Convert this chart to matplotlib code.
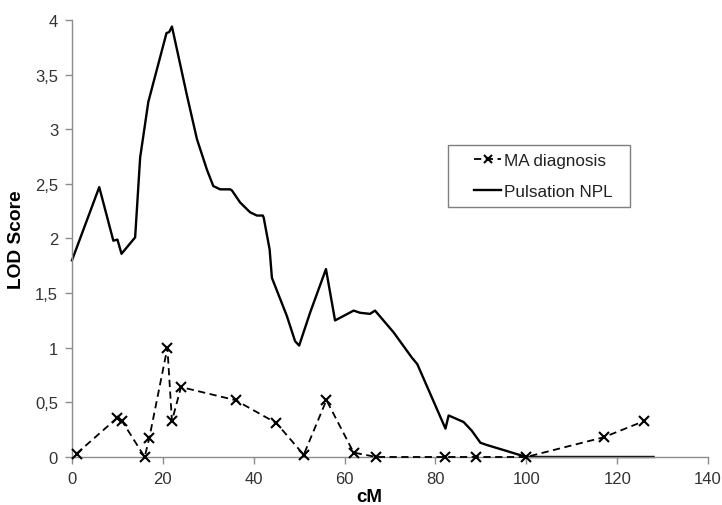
import matplotlib

matplotlib.use("Agg")
import matplotlib.pyplot as plt
from matplotlib.patches import Rectangle
from matplotlib.ticker import FuncFormatter

plt.rcParams["font.family"] = ["Liberation Sans", "DejaVu Sans"]

# Pulsation NPL curve (cM, LOD)
npl_cm = [0, 6, 9.1, 10, 10.9, 13.9, 15, 16.8, 20.8, 21.4, 22, 23, 25.3, 27.5,
          29.7, 31.1, 32.6, 34.8, 35.2, 37, 39.2, 40.7, 42, 42.2, 43.5, 44,
          47.3, 49.1, 50, 52.4, 55.9, 57.9, 62, 63.4, 65.6, 66.7, 70.8, 74.8,
          76, 82.2, 82.9, 86.2, 88, 89.9, 91.3, 100, 128]
npl_lod = [1.80, 2.47, 1.98, 1.99, 1.86, 2.01, 2.74, 3.25, 3.88, 3.89, 3.94,
           3.75, 3.31, 2.91, 2.63, 2.48, 2.45, 2.45, 2.44, 2.33, 2.24, 2.21,
           2.21, 2.19, 1.90, 1.64, 1.29, 1.06, 1.02, 1.32, 1.72, 1.25, 1.34,
           1.32, 1.31, 1.34, 1.14, 0.91, 0.85, 0.26, 0.38, 0.32, 0.24, 0.13,
           0.11, 0.0, 0.0]

# MA diagnosis markers (cM, LOD)
ma_cm = [1, 10, 11, 16, 17, 21, 22, 24, 36, 45, 51, 56, 62, 67, 82, 89, 100,
         117, 126]
ma_lod = [0.03, 0.36, 0.33, 0.0, 0.17, 1.0, 0.33, 0.64, 0.52, 0.31, 0.02,
          0.52, 0.04, 0.0, 0.0, 0.0, 0.0, 0.18, 0.33]

x_ticks = [0, 20, 40, 60, 80, 100, 120, 140]
y_ticks = [0, 0.5, 1, 1.5, 2, 2.5, 3, 3.5, 4]

fig = plt.figure(figsize=(7.22, 5.06), dpi=100)
ax = fig.add_axes([0.0997, 0.0949, 0.881, 0.8636])

ax.plot(ma_cm, ma_lod, color="black", linestyle="--", linewidth=1.3,
        dashes=(4, 2.5), marker="x", markersize=7, markeredgewidth=1.5,
        label="MA diagnosis", clip_on=False, zorder=3)
ax.plot(npl_cm, npl_lod, color="black", linewidth=1.7,
        label="Pulsation NPL", clip_on=False, zorder=2)

ax.set_xlim(0, 140)
ax.set_ylim(0, 4)
ax.set_xticks(x_ticks)
ax.set_yticks(y_ticks)
ax.yaxis.set_major_formatter(
    FuncFormatter(lambda v, _p: f"{v:g}".replace(".", ",")))

for side in ("top", "right"):
    ax.spines[side].set_visible(False)
for side in ("left", "bottom"):
    ax.spines[side].set_color("#8c8c8c")
    ax.spines[side].set_linewidth(1.0)
ax.tick_params(direction="out", length=5, color="#8c8c8c", width=1.0,
               labelsize=12, labelcolor="#333333", pad=5)

ax.set_xlabel("cM", fontsize=13.5, fontweight="bold")
ax.xaxis.set_label_coords(0.467, -0.071)
ax.set_ylabel("LOD Score", fontsize=13.8, fontweight="bold", labelpad=7)

# legend box is wider than its contents, so draw the frame separately
ax.add_patch(Rectangle((0.591, 0.572), 0.286, 0.142, transform=ax.transAxes,
                       facecolor="white", edgecolor="#7f7f7f", linewidth=1.0,
                       zorder=4, clip_on=False))
leg = ax.legend(loc="center", bbox_to_anchor=(0.741, 0.643),
                frameon=False, fontsize=12.3, markerscale=0.8,
                handlelength=1.6, handletextpad=0.15, borderpad=0.3,
                labelspacing=0.9, borderaxespad=0)
leg.set_zorder(5)
for t in leg.get_texts():
    t.set_color("#222222")

fig.savefig("out.png", dpi=100)
